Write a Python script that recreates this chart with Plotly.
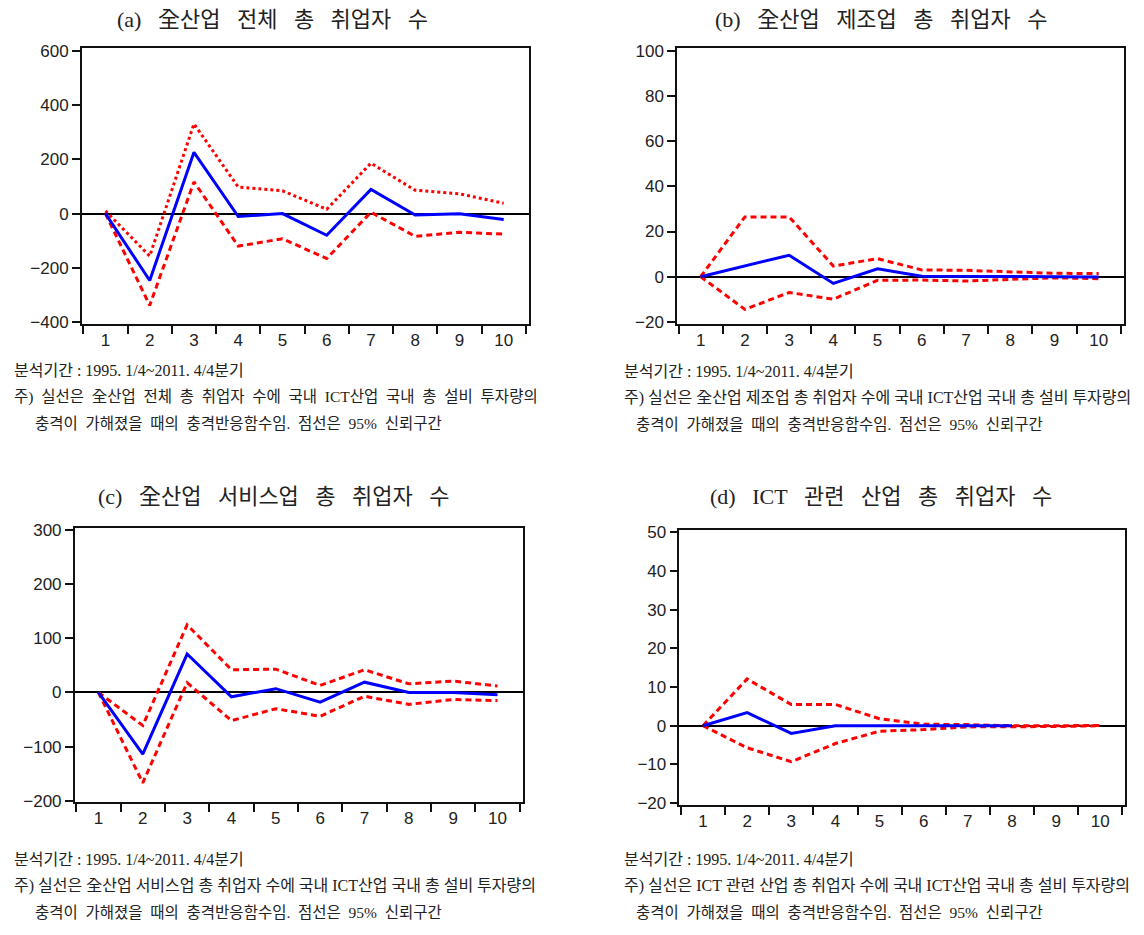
import plotly.graph_objects as go

W, H = 1144, 935

periods = ["1", "2", "3", "4", "5", "6", "7", "8", "9", "10"]

# (a) 全산업 전체
a_irf = [0, -247, 226, -11, 0, -80, 89, -5, -1, -22]
a_upper = [10, -157, 331, 98, 84, 16, 186, 86, 73, 38]
a_lower = [0, -339, 117, -120, -93, -166, 5, -84, -69, -76]

# (b) 全산업 제조업
b_irf = [0, 4.7, 9.5, -3.0, 3.5, 0.2, 0.1, 0.1, 0.0, -0.1]
b_upper = [0, 26.5, 26.5, 4.7, 8.0, 3.0, 2.8, 2.0, 1.5, 1.4]
b_lower = [0, -14.5, -7.0, -10.0, -1.6, -1.5, -1.9, -1.2, -0.5, -0.9]

# (c) 全산업 서비스업
c_irf = [0, -114, 71, -8, 7, -18, 19, 0, 0, -4]
c_upper = [0, -61, 125, 42, 43, 13, 42, 16, 21, 12]
c_lower = [0, -167, 18, -52, -30, -44, -7, -22, -13, -15]

# (d) ICT 관련 산업
d_irf = [0, 3.4, -2.0, 0, 0, 0, 0, 0, None, None]
d_upper = [0, 12.1, 5.5, 5.5, 1.8, 0.4, 0.3, 0.0, 0.0, 0.1]
d_lower = [0, -5.7, -9.3, -4.6, -1.4, -1.0, -0.3, -0.3, -0.2, 0.0]

titles = [
    ["(a)", "全산업", "전체", "총", "취업자", "수"],
    ["(b)", "全산업", "제조업", "총", "취업자", "수"],
    ["(c)", "全산업", "서비스업", "총", "취업자", "수"],
    ["(d)", "ICT", "관련", "산업", "총", "취업자", "수"],
]
period_note = "분석기간 : 1995. 1/4~2011. 4/4분기"
note_lines = [
    "주) 실선은 全산업 전체 총 취업자 수에 국내 ICT산업 국내 총 설비 투자량의",
    "주) 실선은 全산업 제조업 총 취업자 수에 국내 ICT산업 국내 총 설비 투자량의",
    "주) 실선은 全산업 서비스업 총 취업자 수에 국내 ICT산업 국내 총 설비 투자량의",
    "주) 실선은 ICT 관련 산업 총 취업자 수에 국내 ICT산업 국내 총 설비 투자량의",
]
note_tail = "충격이 가해졌을 때의 충격반응함수임. 점선은 95% 신뢰구간"

# panel geometry in pixels: (left, right, top, bottom)
frames = [
    (81.8, 528.7, 42, 322),
    (677.0, 1123.7, 42, 322),
    (74.7, 522.6, 529, 808.3),
    (679.4, 1125.2, 531.7, 811),
]
yranges = [(-407, 610), (-20.9, 101.2), (-203, 304.8), (-20.5, 50.6)]
ydticks = [200, 20, 100, 10]
title_pos = [(272, 13), (881, 13), (274, 497), (881, 497)]
# (x of first two lines, y of first line, x of third line)
note_pos = [(12, 369, 33), (622, 370, 634), (12, 866, 33), (622, 866, 634)]
# word gap and font size of the second note line
note_gap = ["\u2002", " ", " ", " "]
note_size = [15.5, 16, 16, 16]
upper_dash = ["dot", "6px,4px", "6px,4px", "6px,4px"]

series = [
    (a_irf, a_upper, a_lower),
    (b_irf, b_upper, b_lower),
    (c_irf, c_upper, c_lower),
    (d_irf, d_upper, d_lower),
]

BLUE = "#0000ff"
RED = "#ff0000"
TICK_FONT = dict(family="Liberation Sans, Arial, sans-serif", size=17, color="#222222")
TEXT_FONT = "Liberation Serif, Noto Sans CJK KR, serif"

fig = go.Figure()
annotations = []

for i, (irf, up, lo) in enumerate(series):
    n = i + 1
    xa = "x" if n == 1 else f"x{n}"
    ya = "y" if n == 1 else f"y{n}"
    fig.add_trace(go.Scatter(x=periods, y=up, mode="lines", xaxis=xa, yaxis=ya,
                             line=dict(color=RED, width=3, dash=upper_dash[i]),
                             showlegend=False, hoverinfo="skip"))
    fig.add_trace(go.Scatter(x=periods, y=lo, mode="lines", xaxis=xa, yaxis=ya,
                             line=dict(color=RED, width=3, dash="6px,4px"),
                             showlegend=False, hoverinfo="skip"))
    fig.add_trace(go.Scatter(x=periods, y=irf, mode="lines", xaxis=xa, yaxis=ya,
                             line=dict(color=BLUE, width=3),
                             showlegend=False, connectgaps=False))

    l, r, t, b = frames[i]
    xkey = "xaxis" if n == 1 else f"xaxis{n}"
    ykey = "yaxis" if n == 1 else f"yaxis{n}"
    fig.layout[xkey] = dict(
        domain=[l / W, r / W], anchor=ya, type="category",
        range=[-0.535, 9.565], tickson="boundaries", ticks="outside",
        ticklen=8, tickwidth=1.5, tickcolor="#111111",
        showline=True, linecolor="#111111", linewidth=1.5, mirror=True,
        showgrid=False, zeroline=False, tickfont=TICK_FONT,
    )
    fig.layout[ykey] = dict(
        domain=[1 - b / H, 1 - t / H], anchor=xa,
        range=list(yranges[i]), dtick=ydticks[i], tick0=0,
        ticks="outside", ticklen=8, tickwidth=1.5, tickcolor="#111111",
        showline=True, linecolor="#111111", linewidth=1.5, mirror=True,
        showgrid=False, zeroline=True, zerolinecolor="#000000", zerolinewidth=1.5,
        tickfont=TICK_FONT,
    )

    tx, ty = title_pos[i]
    annotations.append(dict(text="\u2002 ".join(titles[i]), x=tx / W, y=1 - ty / H,
                            xref="paper", yref="paper",
                            xanchor="center", yanchor="middle", showarrow=False,
                            font=dict(family=TEXT_FONT, size=22, color="#222222")))
    nx, ny, ix = note_pos[i]
    lines = [
        (period_note, nx, 16),
        (note_lines[i].replace(" ", note_gap[i]), nx, note_size[i]),
        (note_tail.replace(" ", "\u2002"), ix, 15.5),
    ]
    for k, (txt, xpx, fs) in enumerate(lines):
        annotations.append(dict(text=txt, x=xpx / W, y=1 - (ny + 27 * k) / H,
                                xref="paper", yref="paper", xanchor="left", yanchor="middle",
                                showarrow=False,
                                font=dict(family=TEXT_FONT, size=fs, color="#222222")))

fig.update_layout(
    width=W, height=H, margin=dict(l=0, r=0, t=0, b=0),
    paper_bgcolor="white", plot_bgcolor="white",
    annotations=annotations, showlegend=False,
)

fig.write_html("out.html")
